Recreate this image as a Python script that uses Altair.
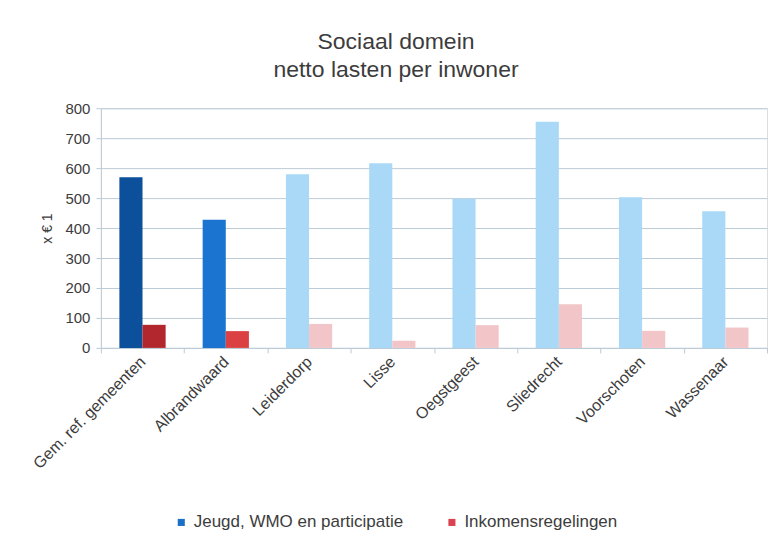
import altair as alt
import pandas as pd

# --- data ---
gemeenten = ["Gem. ref. gemeenten", "Albrandwaard", "Leiderdorp", "Lisse",
             "Oegstgeest", "Sliedrecht", "Voorschoten", "Wassenaar"]
jeugd_wmo = [570, 428, 580, 616, 498, 755, 503, 456]
inkomens = [77, 56, 80, 24, 76, 146, 57, 68]
groep = ["gemiddelde", "focus", "overig", "overig", "overig", "overig", "overig", "overig"]

series = ["Jeugd, WMO en participatie", "Inkomensregelingen"]

rows = []
for g, j, i, gr in zip(gemeenten, jeugd_wmo, inkomens, groep):
    rows.append({"gemeente": g, "serie": series[0], "waarde": j, "key": "J-" + gr})
    rows.append({"gemeente": g, "serie": series[1], "waarde": i, "key": "I-" + gr})
df = pd.DataFrame(rows)

fill_domain = ["J-gemiddelde", "J-focus", "J-overig", "I-gemiddelde", "I-focus", "I-overig"]
fill_range = ["#0c4f9b", "#1a74d0", "#a9d9f6", "#b2272d", "#db4043", "#f2c6c8"]

grid_col = "#bccbd8"
text_col = "#3c3c3c"
font = "Liberation Sans"

x_enc = alt.X("gemeente:N", sort=gemeenten, title=None,
              scale=alt.Scale(paddingInner=0, paddingOuter=0),
              axis=alt.Axis(labelAngle=-45, labelAlign="right", labelBaseline="middle",
                            labelFontSize=16, labelColor=text_col, labelFont=font,
                            labelPadding=6, labelLimit=300,
                            tickBand="extent", tickExtra=True, tickSize=5,
                            tickColor=grid_col, domainColor=grid_col, grid=False))
xoff_enc = alt.XOffset("serie:N", sort=series,
                       scale=alt.Scale(paddingInner=0, paddingOuter=0.8))
y_enc = alt.Y("waarde:Q", title="x € 1",
              scale=alt.Scale(domain=[0, 800], nice=False),
              axis=alt.Axis(values=[0, 100, 200, 300, 400, 500, 600, 700, 800],
                            labelFontSize=15, labelColor=text_col, labelFont=font,
                            labelPadding=6, tickSize=5, tickColor=grid_col,
                            domainColor=grid_col, gridColor=grid_col,
                            titleFontSize=14, titleFont=font, titleColor=text_col,
                            titleFontWeight="normal", titlePadding=10))

bars = alt.Chart(df).mark_bar().encode(
    x=x_enc, xOffset=xoff_enc, y=y_enc,
    fill=alt.Fill("key:N", scale=alt.Scale(domain=fill_domain, range=fill_range),
                  legend=None),
)

legend_layer = alt.Chart(df).mark_square(opacity=0, size=1).encode(
    x=x_enc, xOffset=xoff_enc, y=y_enc,
    color=alt.Color("serie:N", sort=series,
                    scale=alt.Scale(domain=series, range=["#1a6fc6", "#d9434f"]),
                    legend=alt.Legend(title=None, orient="none", direction="horizontal",
                                      legendX=72, legendY=406,
                                      symbolType="square", symbolSize=50,
                                      symbolOpacity=1, symbolStrokeWidth=0,
                                      labelFontSize=17, labelFont=font,
                                      labelColor=text_col, labelOffset=4,
                                      labelLimit=400, columnPadding=40)),
)

chart = alt.layer(bars, legend_layer).properties(
    width=667,
    height=240,
    title=alt.TitleParams(["Sociaal domein", "netto lasten per inwoner"],
                          fontSize=23, font=font, color=text_col,
                          fontWeight="normal", lineHeight=28, offset=19,
                          anchor="middle", dx=-38),
    autosize=alt.AutoSizeParams(type="none"),
    padding={"left": 93, "top": 100, "right": 7, "bottom": 192},
).configure_view(stroke=None).configure(background="white")

chart.save("out.html", embed_options={"renderer": "svg", "actions": False})
